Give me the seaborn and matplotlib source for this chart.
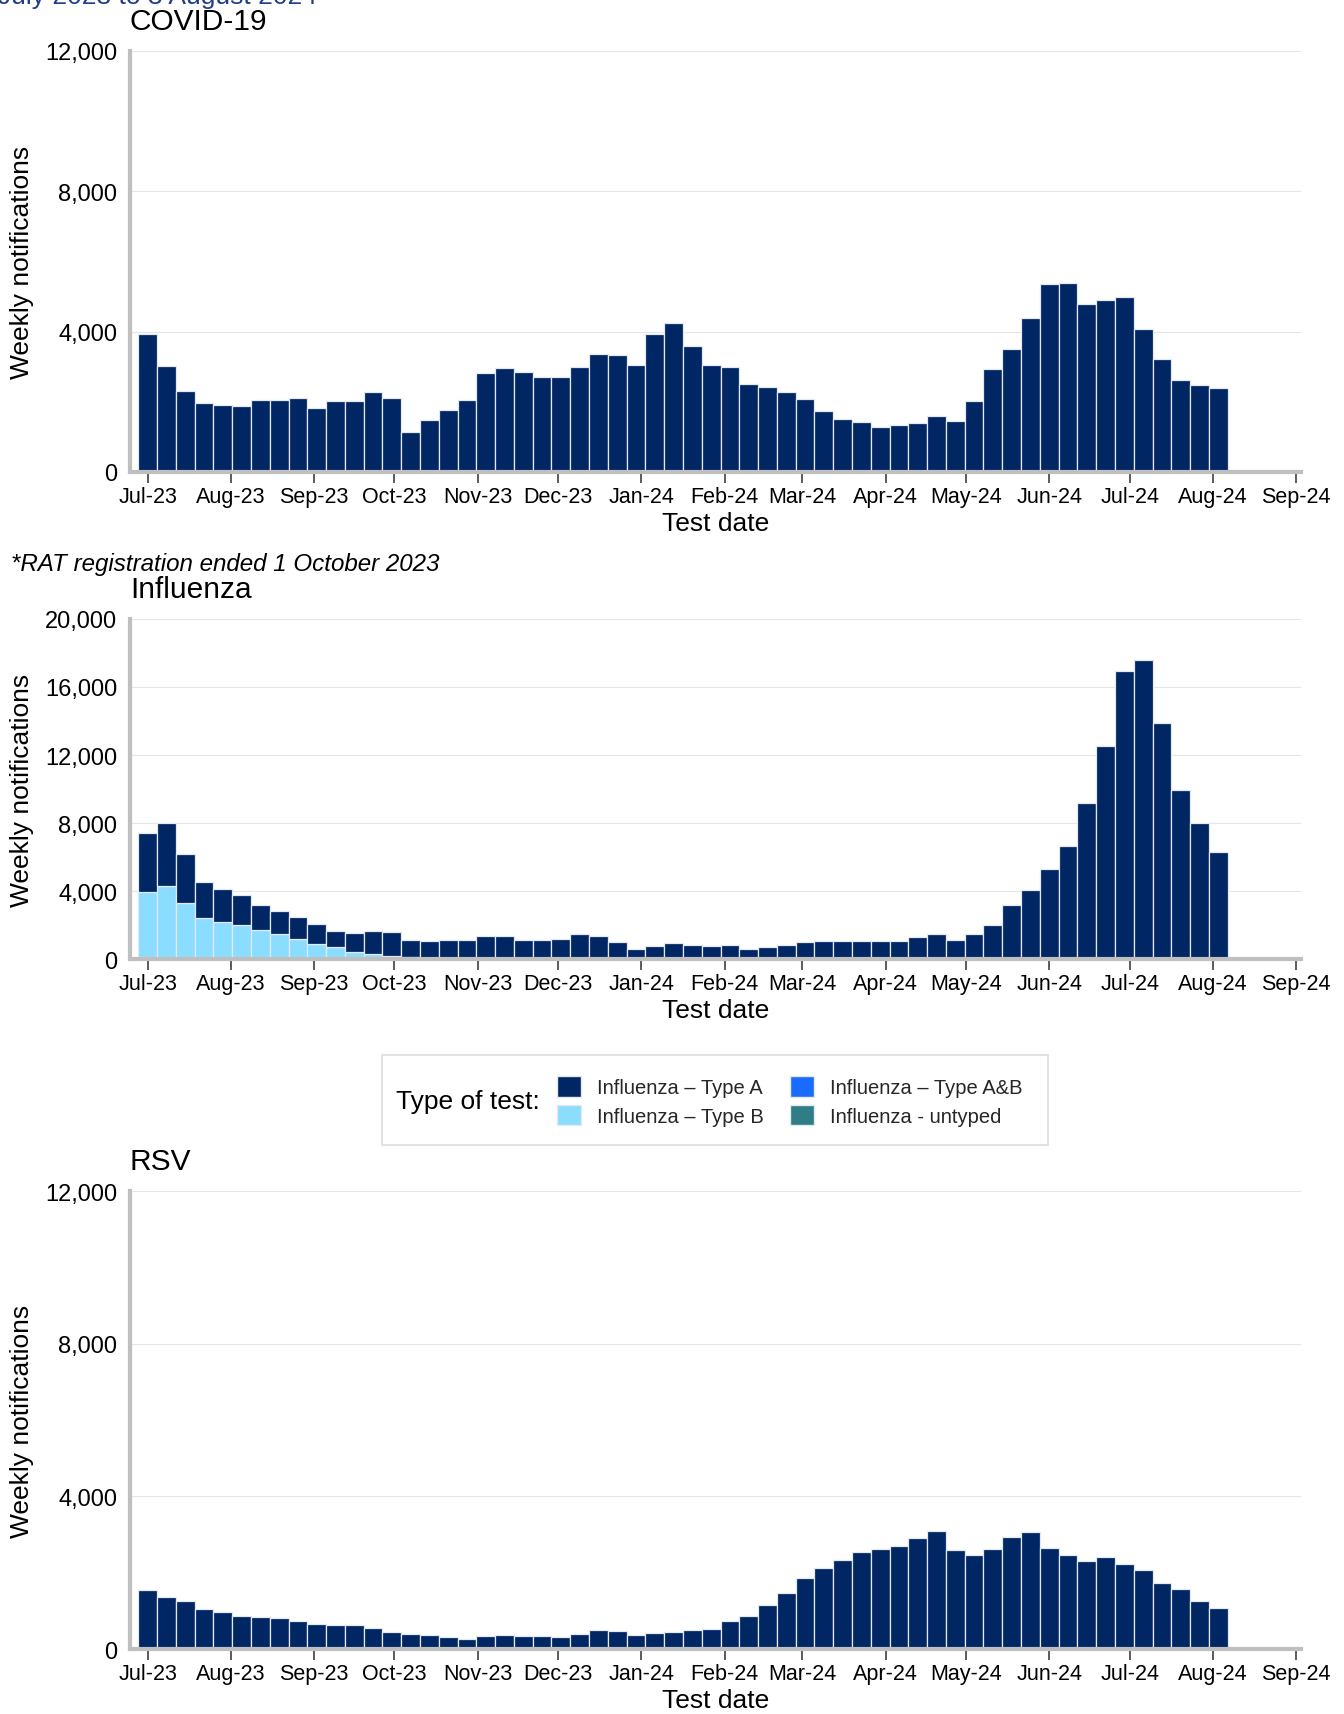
import matplotlib
matplotlib.use("Agg")
import matplotlib.pyplot as plt
import matplotlib.dates as mdates
import matplotlib.ticker as mticker
from matplotlib.patches import Patch, Rectangle
import numpy as np
import pandas as pd
import seaborn as sns

# ---------------------------------------------------------------------------
# Data — weekly notifications, weeks ending Saturday 1 Jul 2023 .. 3 Aug 2024
# ---------------------------------------------------------------------------

WEEK_START = "2023-07-01"
N_WEEKS = 58

COVID = [3940, 3020, 2300, 1960, 1920, 1890, 2040, 2040, 2120, 1810,
         2020, 2020, 2270, 2120, 1140, 1490, 1780, 2040, 2810, 2950,
         2850, 2700, 2710, 2990, 3370, 3330, 3040, 3920, 4250, 3580,
         3040, 3000, 2500, 2415, 2290, 2090, 1740, 1510, 1420, 1270,
         1340, 1410, 1610, 1450, 2030, 2930, 3500, 4390, 5370, 5400,
         4800, 4890, 4980, 4080, 3210, 2620, 2490, 2390]

FLU_A = [3480, 3720, 2870, 2110, 1950, 1790, 1470, 1360, 1320, 1150,
         950, 1110, 1310, 1410, 1030, 1055, 1110, 1110, 1350, 1330,
         1130, 1095, 1190, 1450, 1350, 1015, 580, 775, 935, 815,
         760, 800, 580, 700, 800, 980, 1040, 1080, 1060, 1080,
         1080, 1270, 1490, 1120, 1490, 2020, 3200, 4080, 5310, 6670,
         9160, 12510, 16920, 17610, 13900, 9920, 8020, 6280]
FLU_B = [3800, 4250, 3260, 2410, 2190, 1990, 1690, 1470, 1170, 900,
         720, 420, 320, 200, 100] + [0] * 43
FLU_AB = [0, 0, 60] + [0] * 55
FLU_UNTYPED = [120, 30] + [0] * 56

RSV = [1545, 1370, 1255, 1040, 980, 875, 840, 820, 735, 660,
       620, 620, 540, 450, 390, 360, 320, 265, 345, 380,
       330, 330, 320, 400, 485, 460, 380, 425, 450, 505,
       530, 735, 855, 1155, 1455, 1870, 2135, 2320, 2535, 2625,
       2695, 2905, 3100, 2605, 2455, 2630, 2940, 3075, 2650, 2470,
       2305, 2400, 2225, 2065, 1730, 1565, 1270, 1075]

FLU_TYPES = ["Influenza – Type A", "Influenza – Type B",
             "Influenza – Type A&B", "Influenza - untyped"]

NAVY = "#002664"
PALETTE = {
    "Influenza – Type A": NAVY,
    "Influenza – Type B": "#8ADDFF",
    "Influenza – Type A&B": "#1A6BFF",
    "Influenza - untyped": "#2E7D87",
}
BAR_KW = dict(edgecolor="#E4E8F0", linewidth=0.9, alpha=1)

weeks = mdates.date2num(pd.date_range(WEEK_START, periods=N_WEEKS, freq="7D"))
edges = np.append(weeks - 3.5, weeks[-1] + 3.5).tolist()

XMIN = mdates.date2num(pd.Timestamp("2023-06-24 10:00"))
XMAX = mdates.date2num(pd.Timestamp("2024-09-02 20:00"))


def style_axis(ax, ymax, title):
    ax.set_xlim(XMIN, XMAX)
    ax.set_ylim(0, ymax)
    ax.set_yticks(np.arange(0, ymax + 1, 4000))
    ax.yaxis.set_major_formatter(mticker.StrMethodFormatter("{x:,.0f}"))
    ax.xaxis.set_major_locator(mdates.MonthLocator())
    ax.xaxis.set_major_formatter(mdates.DateFormatter("%b-%y"))
    ax.grid(axis="y", color="#E6E6E6", linewidth=0.8)
    ax.grid(axis="x", visible=False)
    ax.set_axisbelow(True)
    for s in ("top", "right"):
        ax.spines[s].set_visible(False)
    for s in ("left", "bottom"):
        ax.spines[s].set_color("#BFBFBF")
        ax.spines[s].set_linewidth(3)
    ax.tick_params(axis="x", bottom=True, length=8, width=1.2, color="#404040",
                   labelsize=15.5, pad=2, direction="out", labelcolor="black")
    ax.tick_params(axis="y", left=False, length=0, labelsize=17, pad=9,
                   labelcolor="black")
    ax.set_xlabel("Test date", fontsize=19, labelpad=3, color="black")
    ax.set_ylabel("Weekly notifications", fontsize=19, labelpad=8, color="black")
    ax.set_title(title, loc="left", fontsize=21.5, pad=16, color="black")


sns.set_theme(style="white")
plt.rcParams["font.family"] = ["Liberation Sans", "DejaVu Sans"]

fig = plt.figure(figsize=(13.44, 17.15), dpi=100)

# --- COVID-19 ---------------------------------------------------------------
covid = pd.DataFrame({"week": weeks, "count": COVID})
ax1 = fig.add_axes([0.0967, 0.7242, 0.8713, 0.2455])
sns.histplot(data=covid, x="week", weights="count", bins=edges, color=NAVY,
             ax=ax1, **BAR_KW)
style_axis(ax1, 12000, "COVID-19")

# --- Influenza (stacked by type) -------------------------------------------
flu = pd.DataFrame({
    "week": np.tile(weeks, 4),
    "count": FLU_A + FLU_B + FLU_AB + FLU_UNTYPED,
    "type": np.repeat(FLU_TYPES, N_WEEKS),
})
ax2 = fig.add_axes([0.0967, 0.4402, 0.8713, 0.1983])
sns.histplot(data=flu, x="week", weights="count", hue="type", hue_order=FLU_TYPES,
             multiple="stack", bins=edges, palette=PALETTE, legend=False,
             ax=ax2, **BAR_KW)
style_axis(ax2, 20000, "Influenza")

# --- RSV --------------------------------------------------------------------
rsv = pd.DataFrame({"week": weeks, "count": RSV})
ax3 = fig.add_axes([0.0967, 0.0379, 0.8713, 0.2670])
sns.histplot(data=rsv, x="week", weights="count", bins=edges, color=NAVY,
             ax=ax3, **BAR_KW)
style_axis(ax3, 12000, "RSV")

# --- annotations ------------------------------------------------------------
# header line is cropped at the top edge in the original graphic
fig.text(317 / 1344, 1 - 4 / 1715, "July 2023 to 3 August 2024", ha="right",
         va="baseline", fontsize=19, color="#203C8C")
fig.text(11 / 1344, 1 - 565 / 1715, "*RAT registration ended 1 October 2023",
         ha="left", va="center", fontsize=17.4, style="italic", color="black")

# --- legend -----------------------------------------------------------------
fig.add_artist(Rectangle((382 / 1344, 1 - 1146 / 1715), 666 / 1344, 90 / 1715,
                         transform=fig.transFigure, facecolor="white",
                         edgecolor="#DDDDDD", linewidth=1.2))
fig.text(396 / 1344, 1 - 1102 / 1715, "Type of test:", ha="left", va="center",
         fontsize=19, color="black")
handles = [Patch(facecolor=PALETTE[t], edgecolor="#E4E8F0") for t in FLU_TYPES]
fig.legend(handles, FLU_TYPES, ncol=2, loc="center left",
           bbox_to_anchor=(557 / 1344, 1 - 1102 / 1715), frameon=False,
           fontsize=14.5, handlelength=1.2, handleheight=1.2, handletextpad=0.8,
           columnspacing=1.3, labelspacing=0.35, borderpad=0, borderaxespad=0)

fig.savefig("out.png", dpi=100)
